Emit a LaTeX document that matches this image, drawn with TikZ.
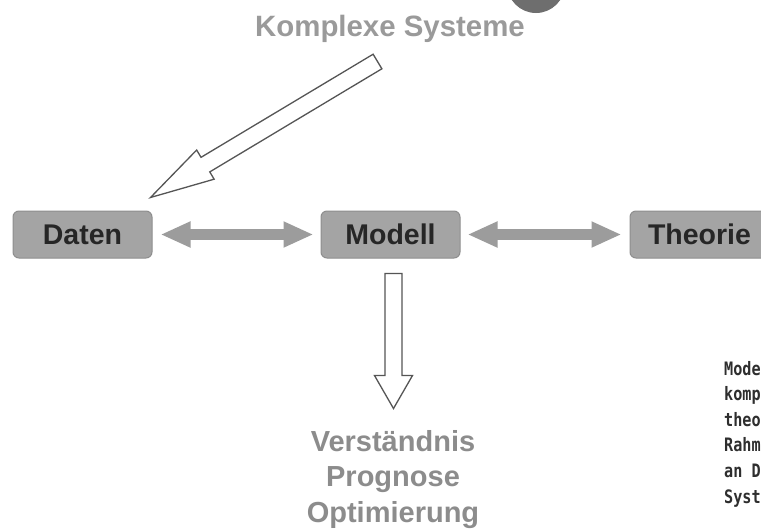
\documentclass[tikz,border=0pt]{standalone}
\usepackage{fontspec}
\setmainfont{Liberation Sans}
\newfontfamily\capfont{DejaVu Sans Mono}
\usetikzlibrary{positioning,calc,arrows.meta}
\definecolor{boxgray}{HTML}{A4A4A4}
\definecolor{boxedge}{HTML}{8E8E8E}
\definecolor{topgray}{HTML}{9A9A9A}
\definecolor{lowgray}{HTML}{8C8C8C}
\definecolor{arrowline}{HTML}{555555}
\definecolor{dotgray}{HTML}{6E6E6E}
\definecolor{captext}{HTML}{2E2E2E}
% hollow block arrow: from, to, half shaft, half head, head length
\newcommand{\hollowarrow}[5]{%
  \coordinate (hb) at ($(#2)!#5!(#1)$);
  \draw[hollow] ($(#1)!#3!90:(#2)$) -- ($(hb)!#3!90:(#2)$) -- ($(hb)!#4!90:(#2)$)
    -- (#2) -- ($(hb)!#4!-90:(#2)$) -- ($(hb)!#3!-90:(#2)$) -- ($(#1)!#3!-90:(#2)$) -- cycle;}
\tikzset{
  box/.style={draw=boxedge, line width=1pt, fill=boxgray, rounded corners=6pt,
    minimum width=139pt, minimum height=47pt, inner sep=0pt, text=black!85,
    font=\fontsize{28.5}{34}\selectfont\bfseries},
  dblarrow/.style={draw=boxgray!95!black, line width=11pt,
    {Triangle[length=30pt,width=24pt]}-{Triangle[length=30pt,width=24pt]}},
  hollow/.style={draw=arrowline, line width=1.3pt, fill=white, line join=miter}
}
\begin{document}
\begin{tikzpicture}[x=1pt,y=-1pt,node distance=168pt]
\clip (0,0) rectangle (761,528);
\fill[white] (0,0) rectangle (761,528);
\fill[dotgray] (536,-16) circle (29pt);

\node[anchor=base, inner sep=0pt, text=topgray, font=\fontsize{29.4}{34}\selectfont\bfseries]
  (ks) at (390,36) {Komplexe Systeme};

\node[box] (daten) at (82.5,234.5) {Daten};
\node[box, right=of daten] (modell) {Modell};
\node[box, right=169pt of modell] (theorie) {Theorie};

\draw[dblarrow, shorten <=8pt, shorten >=7pt] (daten) -- (modell);
\draw[dblarrow, shorten <=7pt, shorten >=8pt] (modell) -- (theorie);

% arrow from the systems down to the data
\coordinate (ks-out) at ($(ks.base)+(-12.5,25.5)$);
\coordinate (daten-in) at ($(daten.north east)+(-2,-13)$);
\hollowarrow{ks-out}{daten-in}{8.5pt}{17pt}{64pt}

% arrow from the model to the results
\coordinate (modell-out) at ($(modell.south)+(3,15)$);
\coordinate (result-in) at ($(modell.south)+(3,150)$);
\hollowarrow{modell-out}{result-in}{8.5pt}{19pt}{33pt}

\node[anchor=north, align=center, inner sep=0pt, text=lowgray,
  font=\fontsize{29}{35.5}\selectfont\bfseries] (result) at (393,430)
  {Verständnis\\Prognose\\Optimierung};

\node[anchor=north west, inner sep=0pt, text=captext,
  font=\capfont\bfseries\fontsize{18.5}{25.6}\selectfont] (caption) at (724,357)
  {\scalebox{0.82}[1]{\begin{tabular}{@{}l@{}}Mode\\komp\\theo\\Rahm\\an D\\Syst\end{tabular}}};
\end{tikzpicture}
\end{document}
